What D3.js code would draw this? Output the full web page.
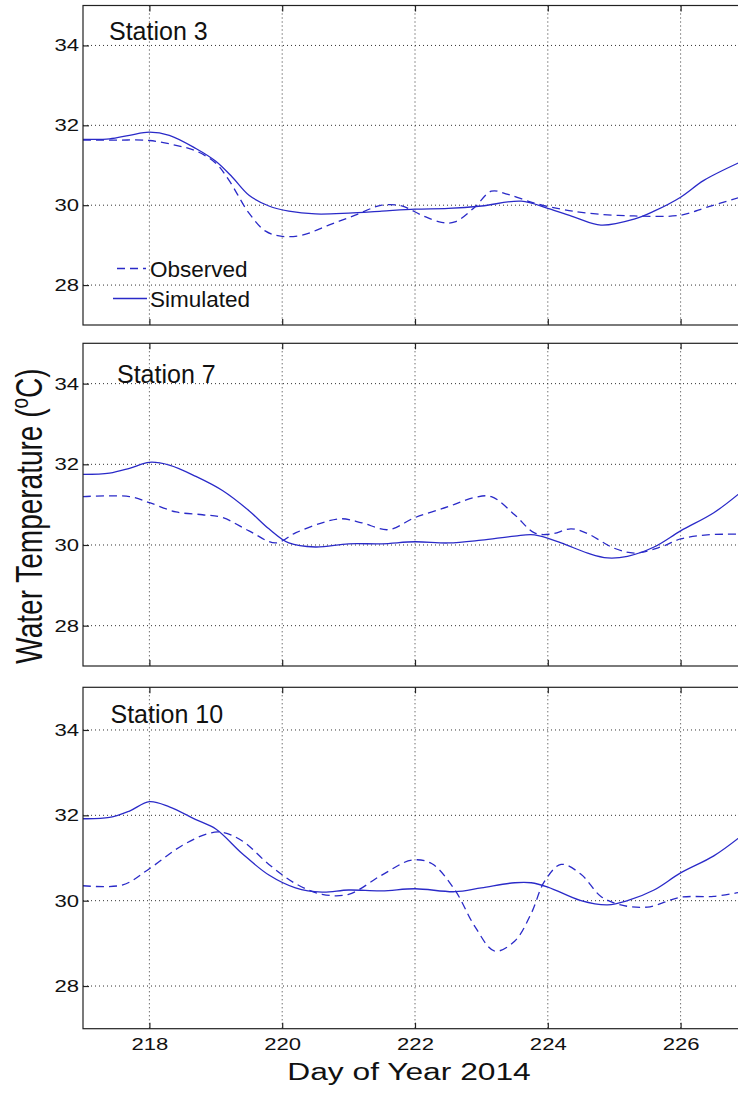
<!DOCTYPE html>
<html><head><meta charset="utf-8">
<script src="https://cdn.jsdelivr.net/npm/d3@7"></script>
<style>body{margin:0;background:#fff;} svg{display:block;} text{font-family:"Liberation Sans",Arial,Helvetica,sans-serif;}</style>
</head><body><svg id="c" width="738" height="1095"></svg>
<script>
const xTicks=[218,220,222,224,226];
const yTicks=[28,30,32,34];
const stationNames=["Station 3","Station 7","Station 10"];
const legendLabels=["Observed","Simulated"];

const station3Observed=[[217,31.63],[217.5,31.63],[218,31.62],[218.4,31.5],[218.7,31.36],[219,31.05],[219.2,30.62],[219.5,29.8],[219.75,29.35],[220,29.22],[220.3,29.25],[220.7,29.5],[221.1,29.75],[221.5,30.0],[221.8,29.98],[222.1,29.75],[222.4,29.57],[222.6,29.58],[222.9,29.95],[223.15,30.35],[223.4,30.27],[223.8,30.05],[224.2,29.9],[224.6,29.8],[225.3,29.73],[226,29.75],[226.4,29.95],[226.9,30.2]];
const station3Simulated=[[217,31.65],[217.4,31.66],[217.7,31.75],[218,31.83],[218.3,31.75],[218.7,31.42],[219,31.1],[219.25,30.7],[219.5,30.25],[219.8,29.98],[220.1,29.85],[220.5,29.78],[221,29.8],[221.5,29.85],[222,29.9],[222.5,29.92],[223,29.98],[223.6,30.1],[224,29.92],[224.4,29.7],[224.8,29.5],[225.3,29.65],[225.6,29.85],[226,30.2],[226.35,30.62],[226.9,31.08]];

const station7Observed=[[217,31.2],[217.7,31.2],[218,31.05],[218.4,30.82],[218.8,30.75],[219.1,30.68],[219.5,30.35],[219.9,30.05],[220.2,30.3],[220.6,30.55],[220.9,30.65],[221.2,30.55],[221.6,30.38],[222,30.68],[222.5,30.95],[222.9,31.18],[223.15,31.2],[223.5,30.75],[223.8,30.3],[224.05,30.27],[224.35,30.4],[224.6,30.28],[225,29.92],[225.3,29.8],[225.7,29.95],[226,30.15],[226.4,30.25],[226.9,30.27]];
const station7Simulated=[[217,31.75],[217.4,31.78],[217.7,31.9],[218,32.05],[218.3,31.98],[218.7,31.7],[219.1,31.35],[219.5,30.85],[219.8,30.4],[220.1,30.05],[220.5,29.95],[221,30.03],[221.5,30.03],[222,30.08],[222.5,30.05],[223,30.12],[223.5,30.22],[223.8,30.25],[224.2,30.05],[224.6,29.8],[224.9,29.68],[225.2,29.72],[225.6,29.95],[226,30.35],[226.5,30.8],[226.9,31.3]];

const station10Observed=[[217,30.35],[217.6,30.37],[218,30.75],[218.5,31.3],[218.9,31.58],[219.1,31.6],[219.4,31.4],[219.8,30.85],[220.2,30.4],[220.6,30.15],[221,30.15],[221.5,30.6],[221.95,30.95],[222.25,30.87],[222.6,30.25],[222.9,29.4],[223.2,28.82],[223.5,29.05],[223.75,29.7],[223.95,30.45],[224.2,30.85],[224.5,30.62],[224.8,30.1],[225.1,29.9],[225.5,29.85],[226,30.08],[226.5,30.1],[226.9,30.2]];
const station10Simulated=[[217,31.92],[217.4,31.95],[217.7,32.1],[218,32.32],[218.3,32.2],[218.7,31.9],[219,31.68],[219.4,31.1],[219.8,30.6],[220.2,30.3],[220.6,30.2],[221,30.25],[221.5,30.23],[222,30.28],[222.6,30.21],[223,30.3],[223.5,30.42],[223.75,30.42],[224,30.32],[224.5,30.0],[224.9,29.9],[225.2,30.0],[225.6,30.25],[226,30.65],[226.5,31.05],[226.9,31.5]];

const observedSeries=[station3Observed,station7Observed,station10Observed];
const simulatedSeries=[station3Simulated,station7Simulated,station10Simulated];

const svg=d3.select("#c");
const panels=[{top:5.5,bottom:325,lx:109,ly:40},{top:343.3,bottom:666,lx:117,ly:383},{top:687.3,bottom:1028.7,lx:110.5,ly:723}];
const x=d3.scaleLinear().domain([217,227]).range([83,747]);
const blue="#2a2ac8";
const SX=1.3;
const defs=svg.append("defs");

panels.forEach((p,i)=>{
  const y=d3.scaleLinear().domain([27,35]).range([p.bottom,p.top]);
  const g=svg.append("g");
  const cid="clip"+i;
  defs.append("clipPath").attr("id",cid).append("rect")
    .attr("x",x(217)).attr("y",p.top).attr("width",x(227)-x(217)).attr("height",p.bottom-p.top);

  g.append("g").selectAll("line").data(xTicks).join("line")
    .attr("x1",d=>x(d)).attr("x2",d=>x(d)).attr("y1",p.top).attr("y2",p.bottom)
    .attr("stroke","#333").attr("stroke-width",1).attr("stroke-dasharray","1,3");
  g.append("g").selectAll("line").data(yTicks).join("line")
    .attr("x1",x(217)).attr("x2",x(227)).attr("y1",d=>y(d)).attr("y2",d=>y(d))
    .attr("stroke","#333").attr("stroke-width",1).attr("stroke-dasharray","1,3");

  const line=d3.line().x(d=>x(d[0])).y(d=>y(d[1])).curve(d3.curveCatmullRom.alpha(0.5));
  g.append("path").datum(observedSeries[i]).attr("d",line).attr("fill","none")
    .attr("stroke",blue).attr("stroke-width",1.3).attr("stroke-dasharray","8,5")
    .attr("clip-path",`url(#${cid})`);
  g.append("path").datum(simulatedSeries[i]).attr("d",line).attr("fill","none")
    .attr("stroke",blue).attr("stroke-width",1.3)
    .attr("clip-path",`url(#${cid})`);

  const ay=g.append("g").attr("transform",`translate(${x(217)},0)`)
    .call(d3.axisLeft(y).tickValues(yTicks).tickSizeInner(-6).tickSizeOuter(0).tickPadding(3).tickFormat(d3.format("d")));
  ay.select(".domain").remove();
  ay.selectAll("line").attr("stroke","#222").attr("stroke-width",1.2);
  ay.selectAll("text").attr("font-size",17).attr("fill","#111").attr("transform",`scale(${SX},1)`);

  const at=g.append("g").attr("transform",`translate(0,${p.top})`)
    .call(d3.axisTop(x).tickValues(xTicks).tickSizeInner(-6).tickSizeOuter(0).tickFormat(""));
  at.select(".domain").remove();
  at.selectAll("line").attr("stroke","#222").attr("stroke-width",1.2);

  const ab=g.append("g").attr("transform",`translate(0,${p.bottom})`)
    .call(d3.axisBottom(x).tickValues(xTicks).tickSizeInner(-6).tickSizeOuter(0).tickPadding(9)
      .tickFormat(i===2?d3.format("d"):""));
  ab.select(".domain").remove();
  ab.selectAll("line").attr("stroke","#222").attr("stroke-width",1.2);
  ab.selectAll("text").attr("font-size",17).attr("fill","#111").attr("transform",`scale(${SX},1)`);

  g.append("rect").attr("x",x(217)).attr("y",p.top).attr("width",x(227)-x(217)).attr("height",p.bottom-p.top)
    .attr("fill","none").attr("stroke","#222").attr("stroke-width",1.2);

  g.append("text").attr("x",p.lx).attr("y",p.ly).attr("font-size",25).attr("fill","#111").text(stationNames[i]);

  if(i===0){
    const lg=g.append("g");
    const rows=[{y:268.5,dash:"8,5",x1:117,x2:146},{y:298.5,dash:null,x1:113,x2:147}];
    rows.forEach((r,k)=>{
      lg.append("line").attr("x1",r.x1).attr("x2",r.x2).attr("y1",r.y).attr("y2",r.y)
        .attr("stroke",blue).attr("stroke-width",1.3).attr("stroke-dasharray",r.dash);
      lg.append("text").attr("x",150).attr("y",r.y+8).attr("font-size",22.5).attr("fill","#111").text(legendLabels[k]);
    });
  }
});

svg.append("text").attr("transform",`translate(409,1080) scale(1.38,1)`).attr("text-anchor","middle")
  .attr("font-size",23).attr("fill","#111").text("Day of Year 2014");

const yl=svg.append("text").attr("transform","translate(42,516) rotate(-90) scale(1,1.3)")
  .attr("text-anchor","middle").attr("font-size",28).attr("fill","#111");
yl.append("tspan").text("Water Temperature (");
yl.append("tspan").attr("font-size",19).attr("dy",-11).text("o");
yl.append("tspan").attr("dy",11).text("C)");
</script></body></html>
